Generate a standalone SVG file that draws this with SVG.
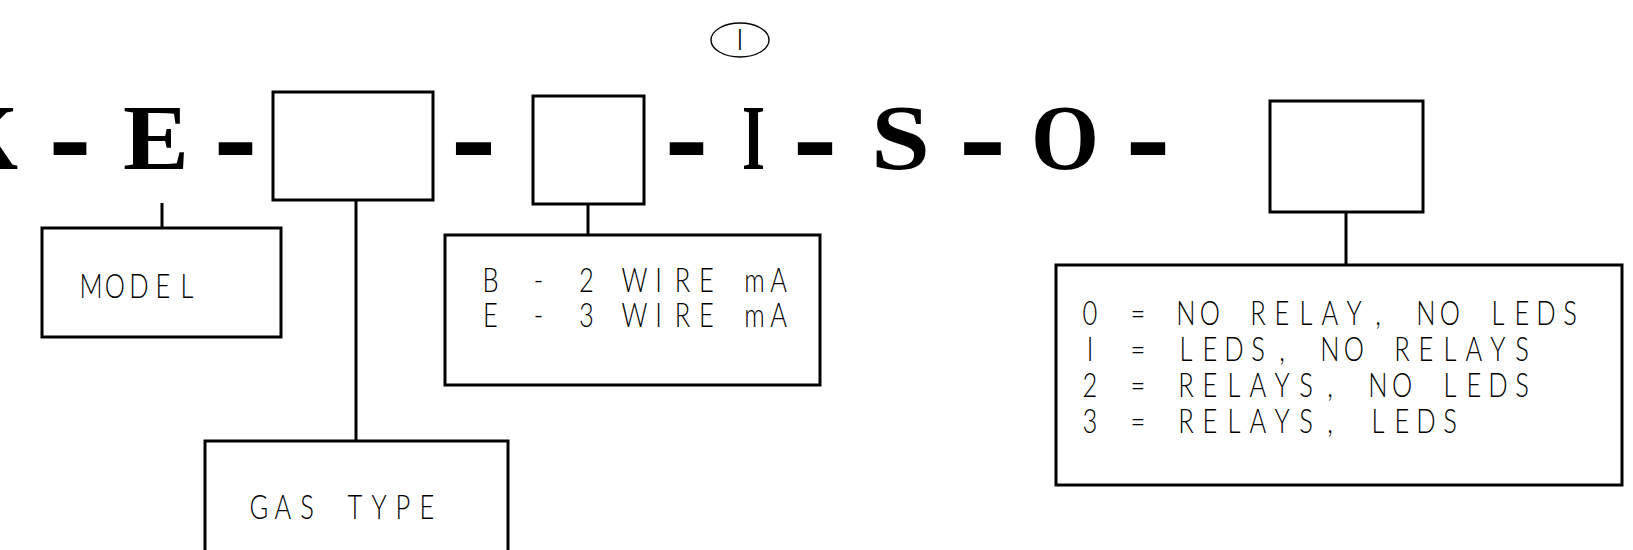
<svg xmlns="http://www.w3.org/2000/svg" width="1633" height="550" viewBox="0 0 1633 550">
<style>
.box{fill:none;stroke:#000;stroke-width:3;stroke-linejoin:miter}
.con{stroke:#000;stroke-width:3;fill:none}
.big{font-family:"Liberation Serif",serif;font-weight:bold;font-size:94px;fill:#000}
.dash{font-family:"Liberation Serif",serif;font-weight:bold;font-size:150px;fill:#000}
.lbl{font-family:Lato,"DejaVu Sans",sans-serif;font-weight:300;font-size:34px;fill:#000;text-anchor:middle}
.rev{font-family:Lato,"DejaVu Sans",sans-serif;font-weight:300;font-size:30px;fill:#000;text-anchor:middle}
</style>
<rect width="1633" height="550" fill="#fff"/>
<g id="revision">
<ellipse cx="740" cy="40" rx="29" ry="17" fill="none" stroke="#000" stroke-width="1.4"/>
<text class="rev" x="740" y="50">I</text>
</g>
<g id="model-code">
<text class="big" x="-45" y="169" textLength="63" lengthAdjust="spacingAndGlyphs">K</text>
<text class="dash" x="49" y="184" textLength="42" lengthAdjust="spacingAndGlyphs">-</text>
<text class="big" x="123" y="169" textLength="66" lengthAdjust="spacingAndGlyphs">E</text>
<text class="dash" x="214" y="184" textLength="43" lengthAdjust="spacingAndGlyphs">-</text>
<text class="big" x="451" y="184" textLength="45" lengthAdjust="spacingAndGlyphs" style="font-size:150px">-</text>
<text class="dash" x="665" y="184" textLength="43" lengthAdjust="spacingAndGlyphs">-</text>
<text class="big" x="742" y="169" textLength="23" lengthAdjust="spacingAndGlyphs">I</text>
<text class="dash" x="793" y="184" textLength="44" lengthAdjust="spacingAndGlyphs">-</text>
<text class="big" x="871" y="169" textLength="59" lengthAdjust="spacingAndGlyphs">S</text>
<text class="dash" x="959" y="184" textLength="47" lengthAdjust="spacingAndGlyphs">-</text>
<text class="big" x="1031" y="169" textLength="68" lengthAdjust="spacingAndGlyphs">O</text>
<text class="dash" x="1126" y="184" textLength="44" lengthAdjust="spacingAndGlyphs">-</text>
</g>
<g id="gas-code-box"><rect class="box" x="273" y="92" width="160" height="108"/></g>
<g id="output-code-box"><rect class="box" x="533" y="96" width="111" height="108"/></g>
<g id="option-code-box"><rect class="box" x="1270" y="101" width="153" height="111"/></g>
<g id="connectors">
<line class="con" x1="162" y1="203" x2="162" y2="228"/>
<line class="con" x1="356" y1="200" x2="356" y2="441"/>
<line class="con" x1="588" y1="204" x2="588" y2="235"/>
<line class="con" x1="1346" y1="212" x2="1346" y2="265"/>
</g>
<g id="model">
<rect class="box" x="42" y="228" width="239" height="109"/>
<text class="lbl" transform="scale(0.75 1)" x="121.3 153.3 185.3 217.3 249.3" y="298">MODEL</text>
</g>
<g id="gas-type">
<rect class="box" x="205" y="441" width="303" height="130"/>
<text class="lbl" transform="scale(0.75 1)" x="345.3 377.3 409.3 441.3 473.3 505.3 537.3 569.3" y="519">GAS TYPE</text>
</g>
<g id="output-type">
<rect class="box" x="445" y="235" width="375" height="150"/>
<text class="lbl" transform="scale(0.75 1)" x="654 686 718 750 782 814 846 878 910 942 974 1006 1038" y="292">B - 2 WIRE mA</text>
<text class="lbl" transform="scale(0.75 1)" x="654 686 718 750 782 814 846 878 910 942 974 1006 1038" y="327">E - 3 WIRE mA</text>
</g>
<g id="options">
<rect class="box" x="1056" y="265" width="566" height="220"/>
<text class="lbl" transform="scale(0.75 1)" x="1453.3 1485.3 1517.3 1549.3 1581.3 1613.3 1645.3 1677.3 1709.3 1741.3 1773.3 1805.3 1837.3 1869.3 1901.3 1933.3 1965.3 1997.3 2029.3 2061.3 2093.3" y="325">0 = NO RELAY, NO LEDS</text>
<text class="lbl" transform="scale(0.75 1)" x="1453.3 1485.3 1517.3 1549.3 1581.3 1613.3 1645.3 1677.3 1709.3 1741.3 1773.3 1805.3 1837.3 1869.3 1901.3 1933.3 1965.3 1997.3 2029.3" y="361">I = LEDS, NO RELAYS</text>
<text class="lbl" transform="scale(0.75 1)" x="1453.3 1485.3 1517.3 1549.3 1581.3 1613.3 1645.3 1677.3 1709.3 1741.3 1773.3 1805.3 1837.3 1869.3 1901.3 1933.3 1965.3 1997.3 2029.3" y="397">2 = RELAYS, NO LEDS</text>
<text class="lbl" transform="scale(0.75 1)" x="1453.3 1485.3 1517.3 1549.3 1581.3 1613.3 1645.3 1677.3 1709.3 1741.3 1773.3 1805.3 1837.3 1869.3 1901.3 1933.3" y="433">3 = RELAYS, LEDS</text>
</g>
</svg>
